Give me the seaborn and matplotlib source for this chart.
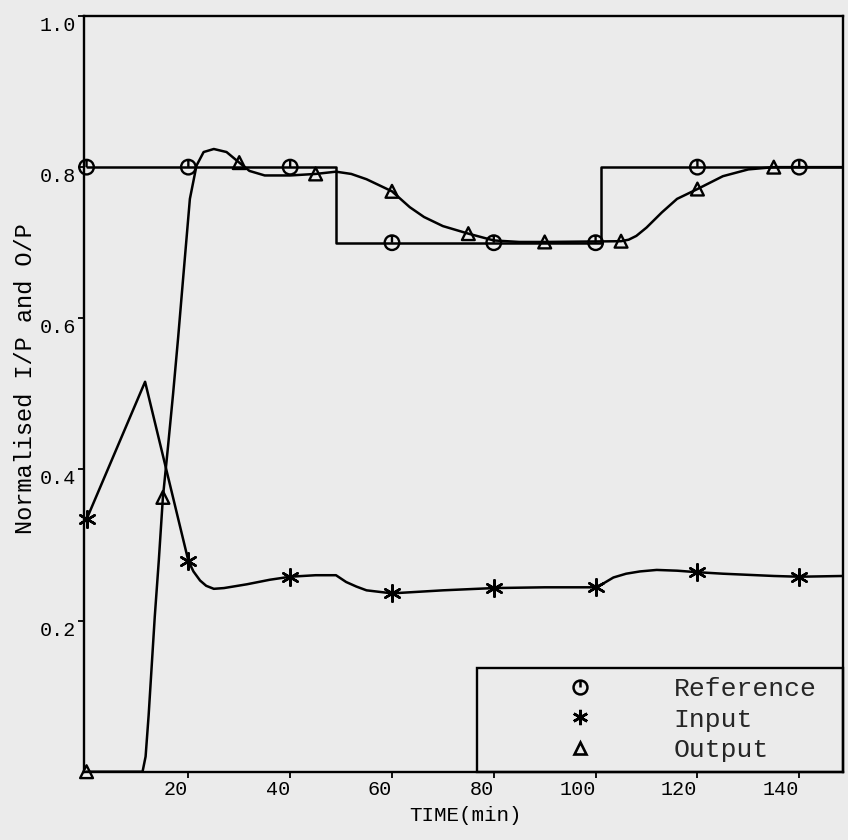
import numpy as np
import pandas as pd
import matplotlib
matplotlib.use("Agg")
import matplotlib.pyplot as plt
from matplotlib.path import Path
from matplotlib.lines import Line2D
import seaborn as sns

# ---- data -------------------------------------------------------------
series_names = ["Reference", "Input", "Output"]

# reference set-point (step changes)
ref_t = [0, 49, 49, 101, 101, 148.6]
ref_v = [0.80, 0.80, 0.70, 0.70, 0.80, 0.80]
ref_mark_t = [0, 20, 40, 60, 80, 100, 120, 140]
ref_mark_v = [0.80, 0.80, 0.80, 0.70, 0.70, 0.70, 0.80, 0.80]

# normalised controller input
inp_t = [0, 11.5, 20, 21, 22.3, 23.5, 25, 27, 31.5, 36, 40, 45, 49, 51, 53,
         55, 57.5, 60, 70, 80, 90, 100, 101.5, 103.5, 106, 108.7, 112, 116,
         120, 125, 130, 135, 140, 148.6]
inp_v = [0.334, 0.516, 0.279, 0.265, 0.253, 0.246, 0.242, 0.243, 0.248,
         0.254, 0.258, 0.260, 0.260, 0.251, 0.245, 0.240, 0.238, 0.236,
         0.240, 0.243, 0.244, 0.244, 0.249, 0.257, 0.262, 0.265, 0.267,
         0.266, 0.264, 0.262, 0.2605, 0.259, 0.258, 0.259]
inp_mark_t = [0, 20, 40, 60, 80, 100, 120, 140]
inp_mark_v = [0.334, 0.279, 0.258, 0.236, 0.243, 0.244, 0.264, 0.258]

# normalised process output
out_t = [0, 11.0, 11.6, 12.2, 12.8, 13.4, 14.2, 15, 16, 17, 18, 19, 20.3,
         21.6, 23, 25, 27.5, 30, 32, 35, 40, 45, 49, 52, 55, 60, 63.5, 66.3,
         70, 75, 80, 85, 90, 105, 106.5, 108, 110, 113, 116, 120, 125, 130,
         135, 148.6]
out_v = [0, 0, 0.02, 0.075, 0.14, 0.205, 0.28, 0.363, 0.43, 0.50, 0.575,
         0.655, 0.758, 0.802, 0.82, 0.824, 0.82, 0.806, 0.795, 0.789, 0.789,
         0.791, 0.794, 0.791, 0.784, 0.768, 0.747, 0.734, 0.722, 0.712,
         0.703, 0.701, 0.701, 0.702, 0.704, 0.709, 0.72, 0.74, 0.758, 0.771,
         0.788, 0.797, 0.80, 0.80]
out_mark_t = [0, 15, 30, 45, 60, 75, 90, 105, 120, 135]
out_mark_v = [0, 0.363, 0.806, 0.791, 0.768, 0.712, 0.701, 0.702, 0.771, 0.800]

x_ticks = [20, 40, 60, 80, 100, 120, 140]
y_ticks = [0.2, 0.4, 0.6, 0.8, 1.0]

# ---- style ------------------------------------------------------------
sns.set_theme(style="ticks")
mono = ["Liberation Mono", "DejaVu Sans Mono"]
plt.rcParams["font.family"] = mono
bg = "#ebebeb"

fig = plt.figure(figsize=(8.48, 8.40), dpi=100, facecolor=bg)
ax = fig.add_axes([84 / 848, 1 - 771.7 / 840, 759 / 848, 755.7 / 840])
ax.set_facecolor(bg)

# circle with a short stroke from the top down to the centre
clock = Path.make_compound_path(
    Path.unit_circle(),
    Path([(0, 0), (0, 1)], [Path.MOVETO, Path.LINETO]),
)
asterisk = (6, 2, 0)

lw = 1.8
ref_df = pd.DataFrame({"t": ref_t, "v": ref_v})
inp_df = pd.DataFrame({"t": inp_t, "v": inp_v})
out_df = pd.DataFrame({"t": out_t, "v": out_v})
for df in (ref_df, inp_df, out_df):
    sns.lineplot(data=df, x="t", y="v", ax=ax, color="black", lw=lw,
                 sort=False, estimator=None, legend=False)

# open markers (circle, triangle)
for mt, mv, mk, s in [(ref_mark_t, ref_mark_v, clock, 110),
                      (out_mark_t, out_mark_v, "^", 85)]:
    sns.scatterplot(x=mt, y=mv, ax=ax, marker=mk, s=s, facecolors="none",
                    edgecolors="black", linewidths=1.7,
                    legend=False, zorder=5, clip_on=False)
# line-only asterisk marker
sns.scatterplot(x=inp_mark_t, y=inp_mark_v, ax=ax, marker=asterisk, s=140,
                color="black", linewidths=1.8, legend=False, zorder=5,
                clip_on=False)

ax.set_xlim(-0.5, 148.6)
ax.set_ylim(0, 1.0)
ax.set_xticks(x_ticks)
ax.set_yticks(y_ticks)
ax.set_xticklabels([str(v) for v in x_ticks])
ax.set_yticklabels([f"{v:.1f}" for v in y_ticks])
ax.tick_params(axis="both", direction="out", length=4.5, width=1.3,
               colors="black", labelsize=14.5, pad=1.5)
for lbl in ax.get_xticklabels():
    lbl.set_ha("right")
for lbl in ax.get_yticklabels():
    lbl.set_va("top")

for sp in ax.spines.values():
    sp.set_visible(True)
    sp.set_color("black")
    sp.set_linewidth(1.7)

ax.set_xlabel("TIME(min)", fontsize=15, color="black")
ax.set_ylabel("Normalised I/P and O/P", fontsize=17, color="black")
ax.xaxis.set_label_coords(0.503, -0.045)
ax.yaxis.set_label_coords(-0.062, 0.52)

handles = [
    Line2D([], [], ls="none", marker=clock, ms=10, mfc="none", mec="black", mew=1.8),
    Line2D([], [], ls="none", marker=asterisk, ms=11, mec="black", mew=1.9),
    Line2D([], [], ls="none", marker="^", ms=8, mfc="none", mec="black", mew=1.9),
]
leg = ax.legend(handles, series_names, loc="lower left",
                bbox_to_anchor=(0.5178, 0.0, 0.4822, 0.139), mode="expand",
                borderaxespad=0, borderpad=0.35, handlelength=7.1,
                handletextpad=0.0, labelspacing=0.26, fancybox=False,
                frameon=True, framealpha=1, edgecolor="black",
                prop={"family": mono, "size": 19})
frame = leg.get_frame()
frame.set_facecolor("none")
frame.set_edgecolor("black")
frame.set_linewidth(1.7)

fig.savefig("out.png", dpi=100, facecolor=bg)
